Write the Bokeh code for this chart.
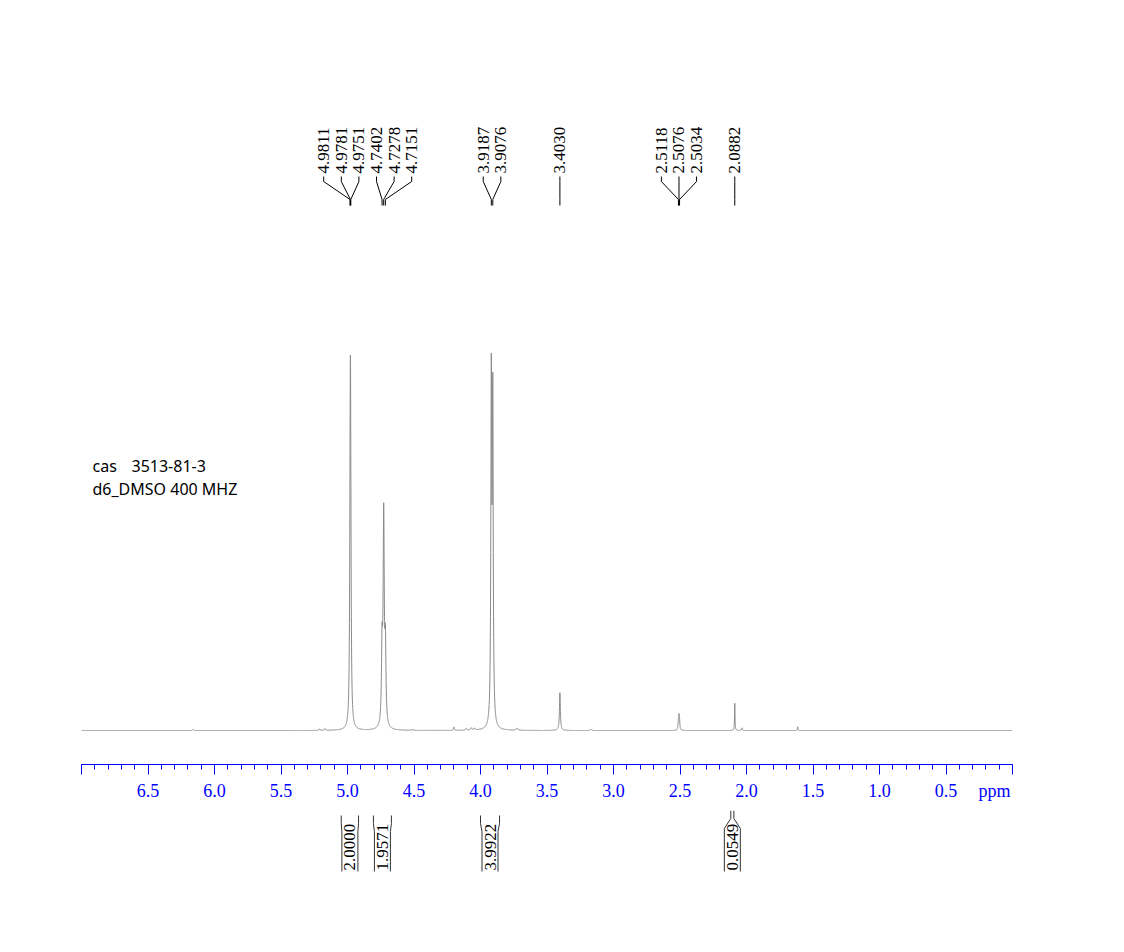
import numpy as np
from bokeh.plotting import figure
from bokeh.layouts import column
from bokeh.models import Range1d, FixedTicker
from bokeh.core.properties import value
from bokeh.embed import file_html
from bokeh.resources import INLINE

# ---------------- data ----------------
# peaks of the 1H spectrum: position (ppm), relative height (tallest = 100), half width (ppm)
peak_ppm = [6.160, 5.210, 5.170, 4.9811, 4.9781, 4.9751, 4.7402, 4.7278, 4.7151,
            4.510, 4.200, 4.108, 4.070, 4.045, 3.9187, 3.9076, 3.726, 3.4030,
            3.169, 2.5118, 2.5076, 2.5034, 2.0882, 2.034, 1.615]
peak_height = [0.3, 0.4, 0.45, 20.0, 74.0, 20.0, 20.0, 55.0, 20.0,
               0.3, 0.9, 0.5, 0.6, 0.5, 90.3, 84.8, 0.6, 10.0,
               0.3, 2.0, 3.2, 2.0, 7.3, 0.7, 1.0]
peak_hwhm = [0.004, 0.004, 0.004, 0.004, 0.004, 0.004, 0.005, 0.005, 0.005,
             0.003, 0.003, 0.005, 0.005, 0.005, 0.004, 0.004, 0.006, 0.004,
             0.006, 0.003, 0.003, 0.003, 0.002, 0.003, 0.002]

# labelled peak shifts
shift_labels = [4.9811, 4.9781, 4.9751, 4.7402, 4.7278, 4.7151,
                3.9187, 3.9076, 3.4030, 2.5118, 2.5076, 2.5034, 2.0882]

# integrals: region start / end (ppm) and value
integral_start = [5.047, 4.805, 4.000, 2.118]
integral_end = [4.917, 4.670, 3.857, 2.095]
integral_value = [2.0000, 1.9571, 3.9922, 0.0549]

# axis ticks
major_ticks = [7.0, 6.5, 6.0, 5.5, 5.0, 4.5, 4.0, 3.5, 3.0, 2.5, 2.0, 1.5, 1.0, 0.5, 0.0]
major_labels = ["", "6.5", "6.0", "5.5", "5.0", "4.5", "4.0", "3.5", "3.0", "2.5",
                "2.0", "1.5", "1.0", "0.5", "ppm"]
minor_ticks = [round(0.1 * i, 1) for i in range(0, 71)]

info_cas = ["cas", "3513-81-3"]
info_solvent = "d6_DMSO 400 MHZ"

# ---------------- layout helpers ----------------
W, H = 1124, 952
LEFT, RIGHT = 81, 112
TOP_H = 810
FRAME_H = 764
BOT_H = H - TOP_H
PPM_MAX, PPM_MIN = 7.0, 0.0
PX_PER_PPM = (W - LEFT - RIGHT) / (PPM_MAX - PPM_MIN)


def px2ppm(xpx):
    return PPM_MAX - (xpx - LEFT) / PX_PER_PPM


BASE_Y, TOP_Y = 730.0, 353.0


def py2int(ypx):
    return (BASE_Y - ypx) / (BASE_Y - TOP_Y) * 100.0


x_range = Range1d(PPM_MAX, PPM_MIN)

p = figure(width=W, height=TOP_H, x_range=x_range,
           y_range=Range1d(py2int(FRAME_H), py2int(0)),
           output_backend="svg", toolbar_location=None,
           min_border_left=LEFT, min_border_right=RIGHT,
           min_border_top=0, min_border_bottom=TOP_H - FRAME_H,
           y_axis_location=None, x_axis_location="below")
p.outline_line_color = None
p.grid.visible = False
p.background_fill_color = "white"
p.border_fill_color = "white"

# the unit label sits right-aligned at the axis end: pad it on the right with
# no-break spaces so that the centred label ends at the last tick
overrides = {t: l for t, l in zip(major_ticks, major_labels)}
overrides[0.0] = major_labels[-1] + "\u00a0" * 8

ax = p.xaxis[0]
ax.ticker = FixedTicker(ticks=major_ticks, minor_ticks=minor_ticks)
ax.major_label_overrides = overrides
ax.axis_line_color = "#0000ff"
ax.major_tick_line_color = "#0000ff"
ax.minor_tick_line_color = "#0000ff"
ax.major_tick_out = 10
ax.major_tick_in = 0
ax.minor_tick_out = 5
ax.minor_tick_in = 0
ax.major_label_text_color = "#0000ff"
ax.major_label_text_font = "Liberation Serif"
ax.major_label_text_font_size = "18px"
ax.major_label_standoff = 6

# ---------------- spectrum ----------------
xs = np.linspace(PPM_MAX, PPM_MIN, 14001)
ys = np.zeros_like(xs)
for c, h, g in zip(peak_ppm, peak_height, peak_hwhm):
    ys += h / (1.0 + ((xs - c) / g) ** 2)
p.line(xs, ys, line_color="#8a8a8a", line_width=1)

# ---------------- peak labels ----------------
SPACING = 17.6 / PX_PER_PPM
peaks_sorted = sorted(shift_labels, reverse=True)
clusters = [[v] for v in peaks_sorted]


def cluster_pos(cl):
    center = (max(cl) + min(cl)) / 2.0 if len(cl) > 3 else np.mean(cl)
    n = len(cl)
    return [center + (n - 1) / 2.0 * SPACING - i * SPACING for i in range(n)]


merged = True
while merged:
    merged = False
    for i in range(len(clusters) - 1):
        a = cluster_pos(clusters[i])
        b = cluster_pos(clusters[i + 1])
        if a[-1] - b[0] < SPACING:
            clusters[i] = clusters[i] + clusters[i + 1]
            del clusters[i + 1]
            merged = True
            break

label_x, label_txt, con_xs, con_ys = [], [], [], []
for cl in clusters:
    pos = cluster_pos(cl)
    for v, lx in zip(cl, pos):
        label_x.append(lx)
        label_txt.append(f"{v:.4f}")
        con_xs.append([lx, lx, v, v])
        con_ys.append([py2int(176), py2int(181), py2int(199), py2int(205)])

p.text(x=label_x, y=[py2int(173)] * len(label_x), text=label_txt, angle=np.pi / 2,
       text_align="left", text_baseline="middle",
       text_font=value("Liberation Serif"), text_font_size="17px", text_color="black")
p.multi_line(con_xs, con_ys, line_color="black", line_width=1)

# ---------------- sample info ----------------
p.text(x=[px2ppm(92), px2ppm(131)], y=[py2int(465)] * 2, text=info_cas,
       text_align="left", text_baseline="alphabetic",
       text_font=value("Noto Sans"), text_font_size="16px", text_color="black")
p.text(x=[px2ppm(92)], y=[py2int(488)], text=[info_solvent],
       text_align="left", text_baseline="alphabetic",
       text_font=value("Noto Sans"), text_font_size="16px", text_color="black")

# ---------------- integrals (lower strip) ----------------
q = figure(width=W, height=BOT_H, x_range=x_range, y_range=Range1d(BOT_H, 0),
           output_backend="svg", toolbar_location=None,
           min_border_left=LEFT, min_border_right=RIGHT,
           min_border_top=0, min_border_bottom=0,
           x_axis_location=None, y_axis_location=None)
q.outline_line_color = None
q.grid.visible = False
q.background_fill_color = "white"
q.border_fill_color = "white"

HALF = 8.0 / PX_PER_PPM
br_xs, br_ys, it_x = [], [], []
for s, e in zip(integral_start, integral_end):
    c = (s + e) / 2.0
    narrow = (s - e) < 2 * HALF
    br_xs.append([s, s, c + HALF, c + HALF])
    br_ys.append([0 if narrow else 5, 8 if narrow else 13, 18 if narrow else 21, 61])
    br_xs.append([e, e, c - HALF, c - HALF])
    br_ys.append([0 if narrow else 5, 8 if narrow else 13, 18 if narrow else 21, 61])
    it_x.append(c)
q.multi_line(br_xs, br_ys, line_color="#333333", line_width=1)
q.text(x=it_x, y=[60] * len(it_x), text=[f"{v:.4f}" for v in integral_value],
       angle=np.pi / 2, text_align="left", text_baseline="middle",
       text_font=value("Liberation Serif"), text_font_size="17px", text_color="black")

layout = column(p, q, spacing=0)
open("out.html", "w").write(file_html(layout, INLINE))
